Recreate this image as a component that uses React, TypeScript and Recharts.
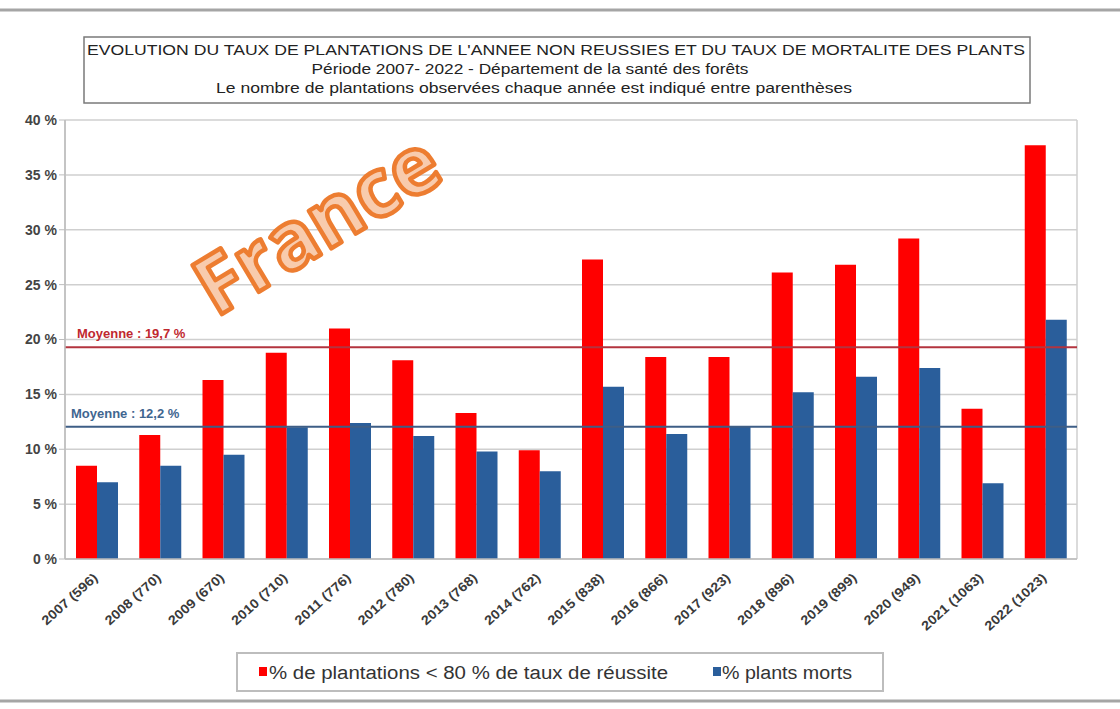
import { Bar, BarChart, CartesianGrid, ReferenceLine, XAxis, YAxis } from 'recharts';

// values (percent)
const YEARS = ['2007', '2008', '2009', '2010', '2011', '2012', '2013', '2014', '2015', '2016', '2017', '2018', '2019', '2020', '2021', '2022'];
const PLOT_COUNTS = [596, 770, 670, 710, 776, 780, 768, 762, 838, 866, 923, 896, 899, 949, 1063, 1023];
const FAILED_PCT = [8.5, 11.3, 16.3, 18.8, 21.0, 18.1, 13.3, 9.9, 27.3, 18.4, 18.4, 26.1, 26.8, 29.2, 13.7, 37.7];
const DEAD_PCT = [7.0, 8.5, 9.5, 12.0, 12.4, 11.2, 9.8, 8.0, 15.7, 11.4, 12.1, 15.2, 16.6, 17.4, 6.9, 21.8];
const Y_TICKS = [0, 5, 10, 15, 20, 25, 30, 35, 40];

const SERIES_FAILED = '% de plantations < 80 % de taux de réussite';
const SERIES_DEAD = '% plants morts';

// average lines, as drawn on the picture, and their printed labels
const AVG_FAILED = 19.3;
const AVG_FAILED_LABEL = 'Moyenne : 19,7 %';
const AVG_DEAD = 12.05;
const AVG_DEAD_LABEL = 'Moyenne : 12,2 %';

const TITLE_LINES = [
  "EVOLUTION DU TAUX DE PLANTATIONS DE L'ANNEE NON REUSSIES ET DU TAUX DE MORTALITE DES PLANTS",
  'Période 2007- 2022 - Département de la santé des forêts',
  'Le nombre de plantations observées chaque année est indiqué entre parenthèses',
];

const RED = '#FF0000';
const BLUE = '#2A5E9B';
const FONT = '"Liberation Sans", Arial, sans-serif';

const data = YEARS.map((y, i) => ({
  label: `${y} (${PLOT_COUNTS[i]})`,
  failed: FAILED_PCT[i],
  dead: DEAD_PCT[i],
}));

function XTick({ x, y, payload }: any) {
  return (
    <g transform={`translate(${x + 2},${y + 12})`}>
      <text
        textAnchor="end"
        transform="rotate(-42)"
        fontSize={13}
        fontWeight={700}
        fill="#3a3a3a"
        fontFamily={FONT}
        textLength={payload.value.length > 10 ? 78 : 70}
        lengthAdjust="spacingAndGlyphs"
      >
        {payload.value}
      </text>
    </g>
  );
}

function avgLabel(text: string, color: string, dx: number) {
  return ({ viewBox }: any) => (
    <text x={viewBox.x + dx} y={viewBox.y - 9} fill={color} fontSize={13} fontWeight={700} fontFamily={FONT}>
      {text}
    </text>
  );
}

export default function App() {
  return (
    <div style={{ position: 'absolute', left: 0, top: 0, width: 1120, height: 709, background: '#fff', fontFamily: FONT }}>
      <BarChart
        width={1120}
        height={709}
        data={data}
        margin={{ top: 120, right: 43, left: 8, bottom: 60 }}
        barCategoryGap="17%"
        barGap={0}
      >
        <CartesianGrid
          stroke="#cfcfcf"
          strokeWidth={1.5}
          verticalCoordinatesGenerator={({ offset }: any) => [offset.left, offset.left + offset.width]}
        />
        <XAxis
          dataKey="label"
          interval={0}
          height={90}
          tickLine={false}
          axisLine={{ stroke: '#bdbdbd', strokeWidth: 1.5 }}
          tick={<XTick />}
        />
        <YAxis
          width={57}
          domain={[0, 40]}
          ticks={Y_TICKS}
          tickFormatter={(v) => `${v} %`}
          tickSize={6}
          tickLine={{ stroke: '#bdbdbd' }}
          axisLine={{ stroke: '#bdbdbd', strokeWidth: 1.5 }}
          tick={{ fontSize: 14, fontWeight: 700, fill: '#444', fontFamily: FONT }}
        />
        <Bar dataKey="failed" name={SERIES_FAILED} fill={RED} barSize={21} isAnimationActive={false} />
        <Bar dataKey="dead" name={SERIES_DEAD} fill={BLUE} barSize={21} isAnimationActive={false} />
        <ReferenceLine y={AVG_FAILED} stroke="#B3343F" strokeWidth={2} label={avgLabel(AVG_FAILED_LABEL, '#C0282F', 12)} />
        <ReferenceLine y={AVG_DEAD} stroke="#3E5E86" strokeWidth={2} label={avgLabel(AVG_DEAD_LABEL, '#3F6690', 6)} />
      </BarChart>

      <svg width={1120} height={709} style={{ position: 'absolute', left: 0, top: 0, pointerEvents: 'none' }}>
        {/* page frame */}
        <line x1={0} y1={10} x2={1120} y2={10} stroke="#a5a5a5" strokeWidth={3} />
        <line x1={0} y1={701} x2={1120} y2={701} stroke="#a5a5a5" strokeWidth={3} />

        {/* title box */}
        <rect x={84} y={37} width={946} height={66} fill="#fff" stroke="#7a7a7a" strokeWidth={1.5} />
        <text x={556} y={55} textAnchor="middle" fontSize={15} fill="#222" fontFamily={FONT} textLength={938} lengthAdjust="spacingAndGlyphs">
          {TITLE_LINES[0]}
        </text>
        <text x={530} y={74} textAnchor="middle" fontSize={15} fill="#222" fontFamily={FONT} textLength={437} lengthAdjust="spacingAndGlyphs">
          {TITLE_LINES[1]}
        </text>
        <text x={534} y={93} textAnchor="middle" fontSize={15} fill="#222" fontFamily={FONT} textLength={636} lengthAdjust="spacingAndGlyphs">
          {TITLE_LINES[2]}
        </text>

        {/* watermark */}
        <text
          x={318}
          y={252}
          textAnchor="middle"
          transform="rotate(-31 318 226)"
          fontSize={80}
          fontWeight={700}
          fontFamily='"Open Sans", sans-serif'
          fill="#F8CBAD"
          stroke="#ED7D31"
          strokeWidth={4.5}
          strokeLinejoin="round"
        >
          France
        </text>

        {/* legend */}
        <rect x={237} y={653} width={646} height={38} fill="#fff" stroke="#bdbdbd" strokeWidth={2} />
        <rect x={259} y={667} width={8} height={9} fill={RED} />
        <text x={269} y={679} fontSize={18} fill="#333" fontFamily={FONT} textLength={399} lengthAdjust="spacingAndGlyphs">
          {SERIES_FAILED}
        </text>
        <rect x={713} y={667} width={8} height={9} fill={BLUE} />
        <text x={722} y={679} fontSize={18} fill="#333" fontFamily={FONT} textLength={130} lengthAdjust="spacingAndGlyphs">
          {SERIES_DEAD}
        </text>
      </svg>
    </div>
  );
}
